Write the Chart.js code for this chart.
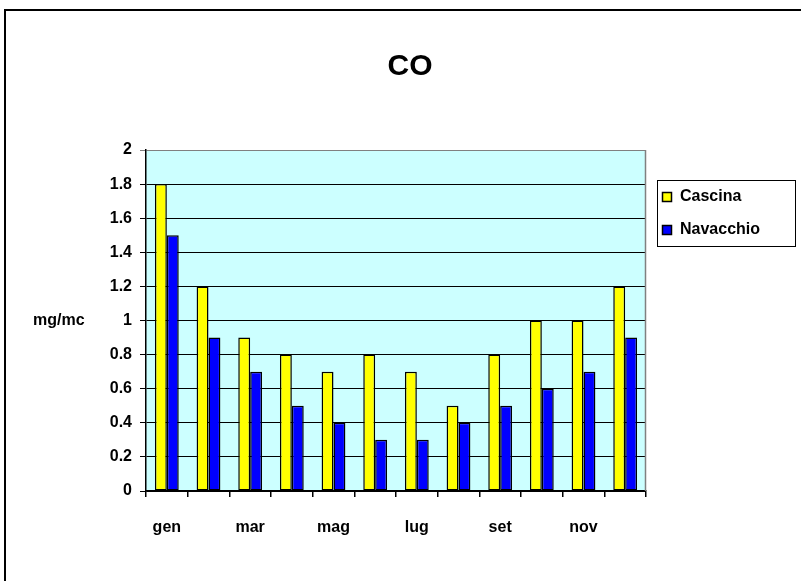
<!DOCTYPE html>
<html>
<head>
<meta charset="utf-8">
<script src="https://cdn.jsdelivr.net/npm/chart.js@4/dist/chart.umd.min.js"></script>
<style>
  html, body { margin: 0; padding: 0; background: #fff; }
  #wrap { width: 801px; height: 581px; position: relative; }
</style>
</head>
<body>
<div id="wrap"><canvas id="c" width="801" height="581"></canvas></div>
<script>
// Monthly CO concentrations (mg/mc) at two monitoring stations
const months = ['gen', 'feb', 'mar', 'apr', 'mag', 'giu', 'lug', 'ago', 'set', 'ott', 'nov', 'dic'];
const cascina = [1.8, 1.2, 0.9, 0.8, 0.7, 0.8, 0.7, 0.5, 0.8, 1.0, 1.0, 1.2];
const navacchio = [1.5, 0.9, 0.7, 0.5, 0.4, 0.3, 0.3, 0.4, 0.5, 0.6, 0.7, 0.9];
const seriesNames = ['Cascina', 'Navacchio'];
const seriesColors = ['#FFFF00', '#0000FF'];
const chartTitle = 'CO';
const unitLabel = 'mg/mc';

const FONT = '"Liberation Sans", Arial, sans-serif';

// Plot background, frame, title, unit label and boxed legend
const decor = {
  id: 'decor',
  beforeDraw(chart) {
    const { ctx, chartArea: a } = chart;
    ctx.save();
    ctx.fillStyle = '#fff';
    ctx.fillRect(0, 0, chart.width, chart.height);
    ctx.fillStyle = '#CCFFFF';
    ctx.fillRect(a.left, a.top, a.right - a.left, a.bottom - a.top);
    ctx.restore();
  },
  afterDraw(chart) {
    const { ctx, chartArea: a } = chart;
    ctx.save();
    // right edge of the plot
    ctx.strokeStyle = '#808080';
    ctx.lineWidth = 1.5;
    ctx.beginPath();
    ctx.moveTo(a.right - 0.5, a.top);
    ctx.lineTo(a.right - 0.5, a.bottom);
    ctx.stroke();

    // outer frame
    ctx.strokeStyle = '#000';
    ctx.lineWidth = 2;
    ctx.beginPath();
    ctx.moveTo(801, 10);
    ctx.lineTo(5, 10);
    ctx.lineTo(5, 581);
    ctx.stroke();

    // title
    ctx.fillStyle = '#000';
    ctx.font = 'bold 30px ' + FONT;
    ctx.textAlign = 'center';
    ctx.textBaseline = 'middle';
    ctx.fillText(chartTitle, 410, 67);

    // unit label
    ctx.font = 'bold 16px ' + FONT;
    ctx.textAlign = 'left';
    ctx.fillText(unitLabel, 33, 321);

    // legend
    const lx = 657, ly = 180, lw = 138, lh = 66;
    ctx.fillStyle = '#fff';
    ctx.fillRect(lx, ly, lw, lh);
    ctx.strokeStyle = '#000';
    ctx.lineWidth = 1;
    ctx.strokeRect(lx + 0.5, ly + 0.5, lw, lh);
    chart.data.datasets.forEach((ds, i) => {
      const cy = ly + 17 + i * 33;
      ctx.fillStyle = ds.backgroundColor;
      ctx.fillRect(lx + 5, cy - 5, 10, 10);
      ctx.strokeStyle = '#000';
      ctx.lineWidth = 1.5;
      ctx.strokeRect(lx + 5.5, cy - 4.5, 9, 9);
      ctx.fillStyle = '#000';
      ctx.font = 'bold 16px ' + FONT;
      ctx.textAlign = 'left';
      ctx.textBaseline = 'middle';
      ctx.fillText(ds.label, lx + 23, cy);
    });
    ctx.restore();
  }
};

new Chart(document.getElementById('c'), {
  type: 'bar',
  data: {
    labels: months,
    datasets: [
      { label: seriesNames[0], data: cascina, backgroundColor: seriesColors[0], borderColor: '#000', borderWidth: 1.5, borderSkipped: false },
      { label: seriesNames[1], data: navacchio, backgroundColor: seriesColors[1], borderColor: '#000', borderWidth: 1.5, borderSkipped: false }
    ]
  },
  options: {
    responsive: false,
    animation: false,
    devicePixelRatio: 1,
    datasets: { bar: { categoryPercentage: 2 / 3.5, barPercentage: 1 } },
    layout: { padding: { top: 150, right: 155, left: 0, bottom: 0 } },
    plugins: { legend: { display: false }, title: { display: false }, tooltip: { enabled: false } },
    scales: {
      x: {
        offset: true,
        grid: { offset: true, drawOnChartArea: false, drawTicks: true, tickLength: 6, color: '#000', lineWidth: 1.5 },
        border: { color: '#000', width: 1.5 },
        ticks: {
          autoSkip: false, maxRotation: 0, padding: 21,
          color: '#000', font: { family: FONT, size: 16, weight: 'bold' },
          callback: (v, i) => (i % 2 === 0 ? months[i] : '')
        },
        afterFit(scale) { scale.height = 90; }
      },
      y: {
        min: 0, max: 2,
        ticks: {
          stepSize: 0.2, padding: 8, color: '#000',
          font: { family: FONT, size: 16, weight: 'bold' },
          callback: v => String(Math.round(v * 10) / 10)
        },
        grid: {
          color: c => (c.tick && Math.abs(c.tick.value - 2) < 1e-9 ? '#808080' : '#000'),
          tickLength: 6, lineWidth: 1
        },
        border: { color: '#000', width: 1.5 },
        afterFit(scale) { scale.width = 146; }
      }
    }
  },
  plugins: [decor]
});
</script>
</body>
</html>
